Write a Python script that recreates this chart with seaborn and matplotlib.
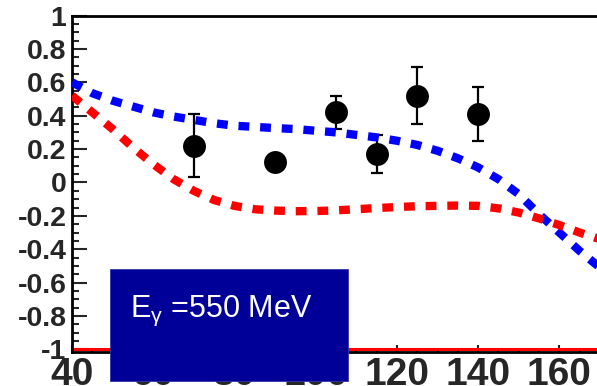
import matplotlib
matplotlib.use("Agg")
import matplotlib.pyplot as plt
from matplotlib.patches import Rectangle
from matplotlib.ticker import MultipleLocator
import numpy as np
import pandas as pd
import seaborn as sns

# Measured asymmetry points (angle in degrees)
theta_pts = [70, 90, 105, 115, 125, 140]
asym_pts = [0.22, 0.12, 0.42, 0.17, 0.52, 0.41]
asym_err = [0.19, 0.04, 0.10, 0.115, 0.17, 0.16]

# Model predictions
theta_curve = [40, 45, 50, 55, 60, 65, 70, 75, 80, 85, 90, 95, 100, 105, 110,
               115, 120, 125, 130, 135, 140, 145, 150, 155, 160, 165, 170]
model_blue = [0.60, 0.535, 0.49, 0.455, 0.42, 0.395, 0.375, 0.355, 0.34, 0.333,
              0.326, 0.32, 0.31, 0.30, 0.285, 0.27, 0.25, 0.225, 0.19, 0.145,
              0.09, 0.02, -0.07, -0.19, -0.30, -0.41, -0.51]
model_red = [0.52, 0.42, 0.32, 0.21, 0.11, 0.02, -0.05, -0.105, -0.14, -0.16,
             -0.168, -0.172, -0.171, -0.167, -0.16, -0.153, -0.147, -0.142,
             -0.14, -0.138, -0.14, -0.155, -0.18, -0.215, -0.255, -0.30, -0.34]

x_ticks = [40, 60, 80, 100, 120, 140, 160]
y_ticks = [-1, -0.8, -0.6, -0.4, -0.2, 0, 0.2, 0.4, 0.6, 0.8, 1]
y_ticklabels = ["-1", "-0.8", "-0.6", "-0.4", "-0.2", "0", "0.2", "0.4", "0.6", "0.8", "1"]
energy_label = r"E$_{\gamma}$ =550 MeV"

sns.set_style("ticks")
plt.rcParams["font.family"] = ["Liberation Sans", "DejaVu Sans"]
plt.rcParams["axes.unicode_minus"] = False
plt.rcParams["mathtext.fontset"] = "custom"
plt.rcParams["mathtext.rm"] = "Liberation Sans"
plt.rcParams["mathtext.it"] = "Liberation Sans"

fig = plt.figure(figsize=(5.97, 3.86), dpi=100)
ax = fig.add_axes([72 / 597, 1 - 352 / 386, 528 / 597, 336.5 / 386])

curves = pd.DataFrame({"theta": theta_curve, "blue": model_blue, "red": model_red})
pts = pd.DataFrame({"theta": theta_pts, "asym": asym_pts, "err": asym_err})

# horizontal reference line at the lower limit
ax.axhline(-1, color="#ff0000", lw=2.2, zorder=1)

ax.errorbar(pts["theta"], pts["asym"], yerr=pts["err"], fmt="none",
            ecolor="black", elinewidth=1.6, capsize=4.5, capthick=1.6, zorder=2)
sns.scatterplot(data=pts, x="theta", y="asym", ax=ax, s=16.5 ** 2,
                color="black", edgecolor="black", linewidth=0, zorder=3)

sns.lineplot(data=curves, x="theta", y="blue", ax=ax, color="#0000ff",
             lw=6, dashes=False, zorder=4)
sns.lineplot(data=curves, x="theta", y="red", ax=ax, color="#ff0000",
             lw=6, dashes=False, zorder=4)
for ln in ax.lines[-2:]:
    ln.set_dashes((1.3, 1.3))
    ln.set_dash_capstyle("butt")

ax.set_xlim(40, 170)
ax.set_ylim(-1.015, 1.0)
ax.set_xlabel("")
ax.set_ylabel("")

ax.set_xticks(x_ticks)
ax.set_xticklabels([str(t) for t in x_ticks], fontsize=28, fontweight="bold",
                   family=["Liberation Sans Narrow", "Liberation Sans"])
ax.set_yticks(y_ticks)
ax.set_yticklabels(y_ticklabels, fontsize=20.5, fontweight="bold")
ax.xaxis.set_minor_locator(MultipleLocator(5))
ax.yaxis.set_minor_locator(MultipleLocator(0.05))

ax.tick_params(axis="y", which="major", direction="in", length=11, width=1.5, pad=4)
ax.tick_params(axis="y", which="minor", direction="in", length=5, width=1.5)
ax.tick_params(axis="x", which="major", direction="in", length=5, width=1.5, pad=3.5)
ax.tick_params(axis="x", which="minor", direction="in", length=2.5, width=1.5)

for side in ["left", "bottom", "top"]:
    ax.spines[side].set_linewidth(2)
    ax.spines[side].set_color("black")
ax.spines["right"].set_visible(False)

# energy label box
fig.add_artist(Rectangle((110 / 597, 1 - 381 / 386), 238 / 597, 112 / 386,
                         transform=fig.transFigure, facecolor="#000099",
                         edgecolor="#3333aa", lw=0.6, zorder=10))
fig.text(130 / 597, 1 - 317 / 386, energy_label, color="white", fontsize=22,
         ha="left", va="baseline", zorder=11)

fig.savefig("out.png", dpi=100)
